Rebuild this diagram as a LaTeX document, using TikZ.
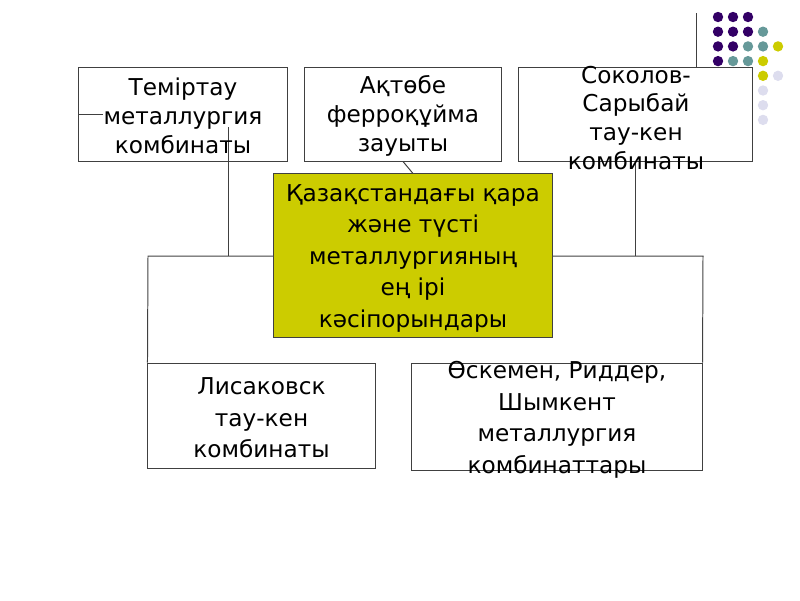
\documentclass[tikz,border=0pt]{standalone}
\usepackage{fontspec}
\setmainfont{DejaVu Sans}
\definecolor{slideframe}{HTML}{404040}
\definecolor{slideline}{HTML}{404040}
\definecolor{slideolive}{HTML}{CCCC00}
\definecolor{dotpurple}{HTML}{330066}
\definecolor{dotteal}{HTML}{669999}
\definecolor{dotyellow}{HTML}{CCCC00}
\definecolor{dotlilac}{HTML}{DDDDEE}

\begin{document}
\begin{tikzpicture}[
  x=0.025cm,
  y=-0.025cm,
  every node/.style={text=black},
  frame/.style={draw=slideframe, line width=0.7pt, inner sep=0pt},
  hub/.style={frame, fill=slideolive},
  upper/.style={align=center, font=\fontsize{16.5pt}{20.6pt}\selectfont},
  lower/.style={align=center, font=\fontsize{16.5pt}{22.4pt}\selectfont},
  link/.style={slideline, line width=0.7pt}
]
  % ---- page, 800 x 600 ----
  \path (0,0) rectangle (800,600);

  % ---- slide decoration, top right ----
  \foreach \c/\r/\col in {1/1/dotpurple, 2/1/dotpurple, 3/1/dotpurple,
      1/2/dotpurple, 2/2/dotpurple, 3/2/dotpurple, 4/2/dotteal,
      1/3/dotpurple, 2/3/dotpurple, 3/3/dotteal, 4/3/dotteal, 5/3/dotyellow,
      1/4/dotpurple, 2/4/dotteal, 3/4/dotteal, 4/4/dotyellow,
      4/5/dotyellow, 5/5/dotlilac, 4/6/dotlilac, 4/7/dotlilac, 4/8/dotlilac}
    \fill[\col] ({718+15*(\c-1)},{17+14.7*(\r-1)}) circle[radius=5.2];

  % ---- frames ----
  \node[frame, minimum width=5.2cm, minimum height=2.35cm] (tem) at (183,114) {};
  \node[frame, minimum width=4.9cm, minimum height=2.35cm] (akt) at (403,114) {};
  \node[frame, minimum width=5.825cm, minimum height=2.35cm] (sok) at (635.5,114) {};
  \node[hub, minimum width=6.95cm, minimum height=4.075cm] (cen) at (413,255.5) {};
  \node[frame, minimum width=5.675cm, minimum height=2.625cm] (lis) at (261.5,415.5) {};
  \node[frame, minimum width=7.25cm, minimum height=2.675cm] (osk) at (557,416.5) {};

  % ---- connectors ----
  \coordinate (jl) at (148,256);
  \coordinate (jr) at (703,256);
  \coordinate (tdrop) at (228,127);
  \draw[link] (tdrop) -- (tdrop |- jl);
  \draw[link] (tem.west |- 0,114) -- ++(25,0);
  \draw[link] (cen.west |- jl) -- (jl) -- (lis.north west);
  \draw[link] (cen.east |- jr) -- (jr) -- (osk.north east);
  \draw[link] (sok.south) -- (sok.south |- jr);
  \draw[link] (akt.south) -- (cen.north);
  \draw[link] (696,13) -- (sok.north -| 696,0);

  % ---- texts ----
  \node[upper] (temtxt) at (183,116) {Теміртау\\металлургия\\комбинаты};
  \node[upper] (akttxt) at (403,116) {Ақтөбе\\ферроқұйма\\зауыты};
  \node[upper] (soktxt) at (636,118) {Соколов-\\Сарыбай\\тау-кен\\комбинаты};
  \node[lower] (centxt) at (413,258)
    {Қазақстандағы қара\\және түсті\\металлургияның\\ең ірі\\кәсіпорындары};
  \node[lower] (listxt) at (261.5,418) {Лисаковск\\тау-кен\\комбинаты};
  \node[lower] (osktxt) at (557,420)
    {Өскемен, Риддер,\\Шымкент\\металлургия\\комбинаттары};
\end{tikzpicture}
\end{document}
